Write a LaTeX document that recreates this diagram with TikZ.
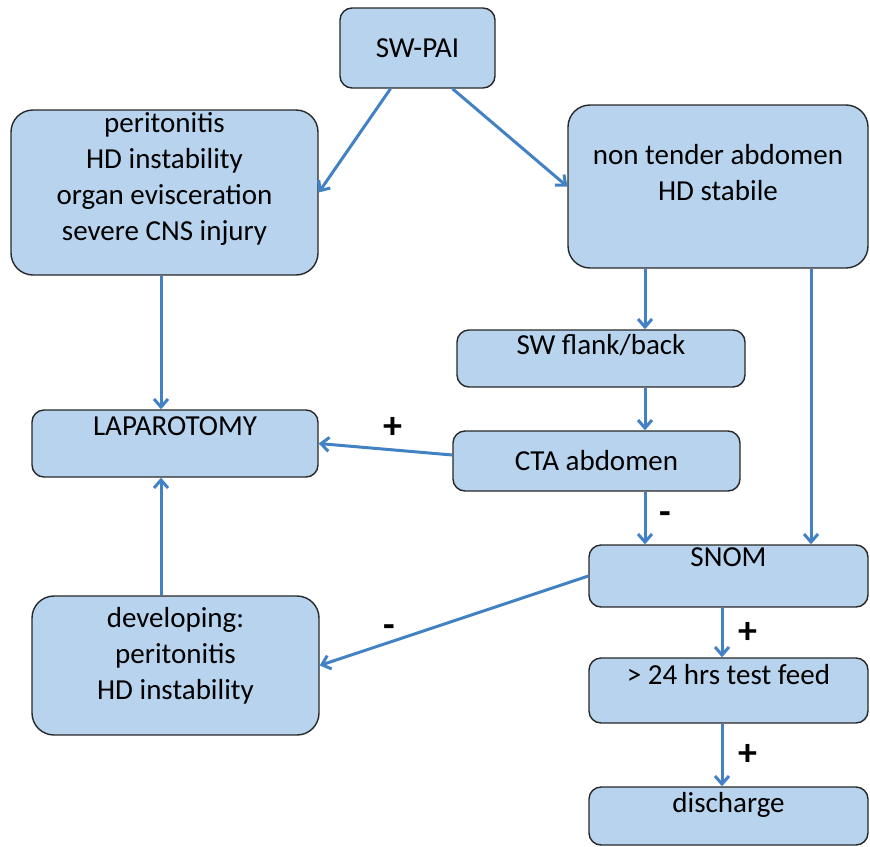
\documentclass[tikz,border=0pt]{standalone}
\usepackage{fontspec}
\setmainfont{Carlito}
\usetikzlibrary{arrows.meta}
\definecolor{boxfill}{RGB}{183,211,237}
\definecolor{linkblue}{RGB}{66,130,196}
\definecolor{edgegray}{RGB}{40,40,40}
\tikzset{
    box/.style={draw=edgegray, fill=boxfill, line width=1.4pt, rounded corners=12pt, inner sep=0pt, align=center, font=\fontsize{29}{36}\selectfont},
    bigbox/.style={box, rounded corners=22pt},
    txt/.style={align=center, inner sep=0pt, anchor=north, font=\fontsize{29}{36}\selectfont},
    arrow/.style={draw=linkblue, line width=3pt, -{Straight Barb[length=8pt, width=14pt]}},
    sign/.style={inner sep=3pt, font=\fontsize{38}{38}\selectfont\bfseries}
}
\begin{document}
\begin{tikzpicture}[x=1pt, y=-1pt]
\useasboundingbox (0,0) rectangle (870,846);
\node[box, minimum width=155pt, minimum height=80pt] (pai) at (417.5,48) {SW-PAI};
\node[bigbox, minimum width=307pt, minimum height=165pt] (injury) at (164.5,192.5) {};
\node[bigbox, minimum width=300pt, minimum height=163pt] (stable) at (718,186.5) {};
\node[box, minimum width=288pt, minimum height=57pt] (flank) at (601,358.5) {};
\node[box, minimum width=286pt, minimum height=67pt] (lap) at (175,443.5) {};
\node[box, minimum width=287pt, minimum height=60pt] (cta) at (596.5,461) {CTA abdomen};
\node[box, minimum width=279pt, minimum height=62pt] (snom) at (728.5,576) {};
\node[bigbox, minimum width=287pt, minimum height=139pt] (develop) at (175.5,665.5) {};
\node[box, minimum width=279pt, minimum height=65pt] (feed) at (728.5,690.5) {};
\node[box, minimum width=279pt, minimum height=58pt] (discharge) at (728.5,816) {};

\node[txt] (injury-t) at ([yshift=-3]injury.north) {peritonitis\\HD instability\\organ evisceration\\severe CNS injury};
\node[txt] (stable-t) at ([yshift=-40]stable.north) {non tender abdomen\\HD stabile};
\node[txt] (flank-t) at ([yshift=-5]flank.north) {SW flank/back};
\node[txt] (lap-t) at ([yshift=-7]lap.north) {LAPAROTOMY};
\node[txt] (snom-t) at ([yshift=-3]snom.north) {SNOM};
\node[txt] (develop-t) at ([yshift=-12]develop.north) {developing:\\peritonitis\\HD instability};
\node[txt] (feed-t) at ([yshift=-7]feed.north) {> 24 hrs test feed};
\node[txt] (discharge-t) at ([yshift=-6]discharge.north) {discharge};

\coordinate (leftx) at (161,0);
\coordinate (midx) at (645,0);
\coordinate (sidex) at (811,0);
\coordinate (feedx) at (722,0);

\draw[arrow] ([xshift=-27]pai.south) -- (injury.east);
\draw[arrow] ([xshift=35]pai.south) -- (stable.west);
\draw[arrow] (injury.south -| leftx) -- (lap.north -| leftx);
\draw[arrow] (develop.north -| leftx) -- (lap.south -| leftx);
\draw[arrow] (stable.south -| midx) -- (flank.north -| midx);
\draw[arrow] (flank.south -| midx) -- (cta.north -| midx);
\draw[arrow] ([yshift=6]cta.west) -- (lap.east) node[sign, midway, above, xshift=7, yshift=6] (plus1) {+};
\draw[arrow] (cta.south -| midx) -- (snom.north -| midx) node[sign, midway, right, xshift=10] (minus1) {-};
\draw[arrow] (stable.south -| sidex) -- (snom.north -| sidex);
\draw[arrow] (snom.west) -- (develop.east) node[sign, pos=0.74, above] (minus2) {-};
\draw[arrow] (snom.south -| feedx) -- (feed.north -| feedx) node[sign, midway, right, xshift=12] (plus2) {+};
\draw[arrow] (feed.south -| feedx) -- (discharge.north -| feedx) node[sign, midway, right, xshift=12] (plus3) {+};
\end{tikzpicture}
\end{document}
